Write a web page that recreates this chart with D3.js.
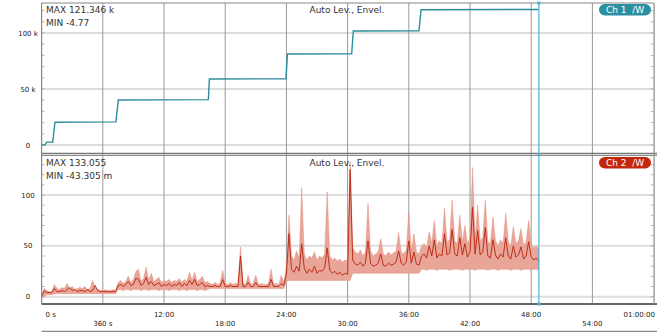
<!DOCTYPE html>
<html>
<head>
<meta charset="utf-8">
<title>Ch1 / Ch2 recorder</title>
<style>
  body { margin: 0; background: #fff; }
  svg { display: block; font-family: "DejaVu Sans", Verdana, sans-serif; }
</style>
</head>
<body>
<svg id="chart" width="657" height="332"></svg>
<script src="https://cdn.jsdelivr.net/npm/d3@7"></script>
<script>
// channel 1: stepped curve, time in minutes / value in k
var ch1Time = [0, 0.33, 0.5, 1.09, 1.31, 7.29, 7.52, 16.35, 16.45, 23.96, 24.1, 30.4, 30.56, 37.0, 37.2, 48.68];
var ch1Val  = [0, 0.2, 2.6, 2.7, 20.3, 20.6, 40.2, 40.5, 58.9, 59.2, 81.2, 81.4, 101.8, 101.9, 120.8, 121.0];

// channel 2: one sample every 0.25 min, envelope max / min and the averaged line
var ch2Step = 0.25;
var ch2Hi = [
  0, 8, 6, 5, 5,
  12, 8, 7, 9, 8, 13, 8, 10, 7, 8, 9, 8, 10, 7, 8, 16, 9, 7, 6, 6, 7, 6, 6, 7, 6,
  14, 16, 13, 15, 20, 14, 17, 25, 27, 15, 18, 29, 16, 23, 15, 17, 19, 14, 16, 15, 17, 14, 16, 15, 18, 14, 17, 15, 24, 16, 24, 15, 17, 20, 14, 15,
  13, 12, 14, 12, 13, 26, 13, 12, 14, 12, 13, 12, 49, 13, 12, 21, 12, 13, 21, 12, 13, 12, 12, 13, 27, 12, 13, 12, 21, 14,
  30, 80, 40, 36, 45, 38, 107, 42, 36, 40, 38, 44, 36, 40, 38, 42, 103, 40, 36, 38, 35, 37, 34, 36, 35, 133,
  48, 44, 42, 46, 40, 44, 92, 45, 40, 42, 44, 57, 42, 40, 44, 41, 43, 45, 63, 44, 42, 46, 82, 45, 62, 44, 42,
  50, 52, 48, 64, 52, 75, 50, 55, 52, 87, 54, 56, 95, 55, 52, 80, 54, 70, 52, 58,
  127, 56, 90, 55, 58, 95, 54, 52, 78, 55, 50, 56, 52, 82, 54, 50, 69, 52, 55, 67,
  50, 54, 75, 52, 48, 50, 46
];
var ch2Lo = [
  -1, 0, 2, 2, 2,
  3, 3, 3, 3, 3, 3, 3, 3, 3, 3, 3, 3, 3, 3, 3, 3, 3, 3, 3, 3, 3, 3, 3, 3, 3,
  7, 7, 6, 7, 7, 6, 7, 7, 7, 6, 7, 7, 6, 7, 7, 7, 6, 7, 7, 7, 6, 7, 7, 7, 6, 7, 7, 6, 7, 7, 7, 6, 7, 7, 6, 7,
  8, 8, 8, 8, 8, 8, 8, 8, 8, 8, 8, 8, 8, 8, 8, 8, 8, 8, 8, 8, 8, 8, 8, 8, 8, 8, 8, 8, 8, 8,
  15, 16, 16, 16, 16, 16, 16, 16, 16, 16, 16, 16, 16, 16, 16, 16, 16, 16, 16, 16, 16, 16, 16, 16, 16, 16,
  23, 23, 23, 23, 23, 23, 23, 23, 23, 23, 23, 23, 23, 23, 23, 23, 23, 23, 23, 23, 23, 23, 23, 23, 23, 23, 23,
  27, 27, 26, 27, 27, 27, 26, 27, 27, 27, 27, 26, 27, 27, 27, 27, 26, 27, 27, 27,
  27, 26, 27, 27, 27, 27, 26, 27, 27, 27, 26, 27, 27, 27, 27, 26, 27, 27, 27, 26,
  27, 27, 27, 26, 27, 27, 27
];
var ch2Mid = [
  0, 6, 4, 4, 4,
  8, 5, 5, 6, 5, 7, 9, 6, 7, 5, 6, 6, 5, 7, 5, 6, 11, 6, 5, 5, 5, 5, 5, 5, 5,
  11, 12, 10, 12, 15, 11, 12, 18, 17, 11, 13, 19, 12, 15, 11, 12, 14, 10, 12, 11, 13, 10, 12, 11, 14, 10, 13, 11, 16, 12, 17, 11, 12, 14, 10, 11,
  10, 10, 11, 10, 10, 17, 10, 10, 11, 10, 10, 10, 40, 10, 10, 14, 10, 10, 14, 10, 10, 10, 10, 10, 17, 10, 10, 10, 13, 11,
  22, 62, 27, 24, 30, 25, 52, 28, 23, 27, 24, 30, 23, 26, 25, 28, 48, 26, 23, 25, 22, 24, 21, 23, 22, 125,
  36, 32, 31, 34, 30, 33, 55, 33, 30, 31, 33, 42, 31, 30, 33, 31, 32, 34, 45, 33, 31, 34, 55, 33, 44, 32, 31,
  40, 42, 38, 50, 40, 56, 38, 42, 40, 62, 41, 43, 66, 42, 40, 58, 41, 52, 39, 44,
  88, 42, 65, 41, 44, 68, 40, 38, 56, 41, 37, 42, 39, 58, 40, 37, 50, 39, 41, 49,
  37, 40, 54, 39, 36, 38, 35
];

var xTicks = [0, 6, 12, 18, 24, 30, 36, 42, 48, 54, 60];
var xTickLabels = ["0  s", "360  s", "12:00", "18:00", "24:00", "30:00", "36:00", "42:00", "48:00", "54:00", "01:00:00"];
var y1Ticks = [0, 50, 100];
var y1TickLabels = ["0", "50 k", "100 k"];
var y2Ticks = [0, 50, 100];
var y2TickLabels = ["0", "50", "100"];
var cursorTime = 48.75;

var svg = d3.select("#chart");
var left = 41.6, right = 653.6;

var x = d3.scaleLinear().domain([0, 60]).range([left, right]);
var y1 = d3.scaleLinear().domain([0, 100]).range([145, 33]);
var y2 = d3.scaleLinear().domain([0, 100]).range([296.7, 195]);

var panels = [
  { top: 3, bottom: 153.5, y: y1, ticks: y1Ticks, labels: y1TickLabels, id: "p1" },
  { top: 155.5, bottom: 304, y: y2, ticks: y2Ticks, labels: y2TickLabels, id: "p2" }
];

panels.forEach(function(p) {
  svg.append("clipPath").attr("id", p.id)
    .append("rect").attr("x", left).attr("y", p.top)
    .attr("width", right - left).attr("height", p.bottom - p.top);

  // horizontal grid
  svg.append("g").selectAll("line").data(p.ticks).enter().append("line")
    .attr("x1", left).attr("x2", right)
    .attr("y1", function(d) { return p.y(d); })
    .attr("y2", function(d) { return p.y(d); })
    .attr("stroke", "#dedede").attr("stroke-width", 2);

  // minor ticks every 10, both sides
  var minor = d3.range(-10, 140, 10).filter(function(d) {
    var yy = p.y(d); return yy > p.top + 2 && yy < p.bottom - 2;
  });
  svg.append("g").selectAll("line").data(minor).enter().append("line")
    .attr("x1", left).attr("x2", left + 3)
    .attr("y1", function(d) { return p.y(d); })
    .attr("y2", function(d) { return p.y(d); })
    .attr("stroke", "#aaa").attr("stroke-width", 0.8);
  svg.append("g").selectAll("line").data(minor).enter().append("line")
    .attr("x1", right - 3).attr("x2", right)
    .attr("y1", function(d) { return p.y(d); })
    .attr("y2", function(d) { return p.y(d); })
    .attr("stroke", "#aaa").attr("stroke-width", 0.8);

  // y labels
  svg.append("g").selectAll("text").data(p.ticks).enter().append("text")
    .attr("x", 28).attr("y", function(d) { return p.y(d) + 2.5; })
    .attr("text-anchor", "middle")
    .attr("font-size", 7).attr("fill", "#222")
    .text(function(d, i) { return p.labels[i]; });
});

// vertical grid
svg.append("g").selectAll("line").data(xTicks.slice(1, -1)).enter().append("line")
  .attr("x1", function(d) { return x(d); }).attr("x2", function(d) { return x(d); })
  .attr("y1", 3).attr("y2", 304)
  .attr("stroke", "#9a9a9a").attr("stroke-width", 1);

// channel 1
svg.append("path")
  .datum(ch1Time.map(function(t, i) { return [t, ch1Val[i]]; }))
  .attr("clip-path", "url(#p1)")
  .attr("fill", "none").attr("stroke", "#2b8c9b").attr("stroke-width", 1.4)
  .attr("d", d3.line().x(function(d) { return x(d[0]); }).y(function(d) { return y1(d[1]); }));

// channel 2 envelope + line
var ch2 = ch2Hi.map(function(h, i) { return { t: i * ch2Step, hi: h, lo: ch2Lo[i], mid: ch2Mid[i] }; });
svg.append("path").datum(ch2)
  .attr("clip-path", "url(#p2)")
  .attr("fill", "#e9a597").attr("stroke", "#e39283").attr("stroke-width", 0.5)
  .attr("d", d3.area().x(function(d) { return x(d.t); })
    .y0(function(d) { return y2(d.lo); }).y1(function(d) { return y2(d.hi); }));
svg.append("path").datum(ch2)
  .attr("clip-path", "url(#p2)")
  .attr("fill", "none").attr("stroke", "#b8230f").attr("stroke-width", 0.9)
  .attr("d", d3.line().x(function(d) { return x(d.t); }).y(function(d) { return y2(d.mid); }));

// frames
var frame = svg.append("g").attr("fill", "none");
frame.append("line").attr("x1", left).attr("x2", right).attr("y1", 3).attr("y2", 3).attr("stroke", "#888").attr("stroke-width", 1.2);
frame.append("line").attr("x1", left).attr("x2", 657).attr("y1", 153.5).attr("y2", 153.5).attr("stroke", "#777").attr("stroke-width", 1.5);
frame.append("line").attr("x1", left).attr("x2", 657).attr("y1", 155.5).attr("y2", 155.5).attr("stroke", "#888").attr("stroke-width", 1.2);
frame.append("line").attr("x1", left).attr("x2", 657).attr("y1", 304).attr("y2", 304).attr("stroke", "#666").attr("stroke-width", 2);
frame.append("line").attr("x1", left).attr("x2", 657).attr("y1", 331.5).attr("y2", 331.5).attr("stroke", "#888").attr("stroke-width", 1.5);
frame.append("line").attr("x1", left).attr("x2", left).attr("y1", 3).attr("y2", 304).attr("stroke", "#888").attr("stroke-width", 1.2);
frame.append("line").attr("x1", right + 0.5).attr("x2", right + 0.5).attr("y1", 3).attr("y2", 304).attr("stroke", "#888").attr("stroke-width", 1.2);

// cursor
var cx = x(cursorTime);
svg.append("line").attr("x1", cx).attr("x2", cx).attr("y1", 3).attr("y2", 304)
  .attr("stroke", "#4ab2d4").attr("stroke-width", 1.2);
svg.append("g").selectAll("rect").data([3, 154.5, 304]).enter().append("rect")
  .attr("x", cx - 1.5).attr("y", function(d) { return d - 1.5; })
  .attr("width", 3).attr("height", 3).attr("fill", "#4ab2d4");

// x labels, two alternating rows
svg.append("g").selectAll("text").data(xTicks).enter().append("text")
  .attr("x", function(d, i) { return i === 0 ? x(d) + 4 : (i === xTicks.length - 1 ? 655 : x(d)); })
  .attr("y", function(d, i) { return i % 2 === 0 ? 317 : 326; })
  .attr("text-anchor", function(d, i) { return i === 0 ? "start" : (i === xTicks.length - 1 ? "end" : "middle"); })
  .attr("font-size", 7).attr("fill", "#222")
  .text(function(d, i) { return xTickLabels[i]; });

// panel texts
var info = [
  { y: 13, max: "MAX 121.346 k", min: "MIN -4.77", ch: "Ch 1  /W", color: "#2a8fa0" },
  { y: 166, max: "MAX 133.055", min: "MIN -43.305 m", ch: "Ch 2  /W", color: "#c4260b" }
];
info.forEach(function(p) {
  svg.append("text").attr("x", 46).attr("y", p.y).attr("font-size", 9).attr("fill", "#333").text(p.max);
  svg.append("text").attr("x", 46).attr("y", p.y + 12.5).attr("font-size", 9).attr("fill", "#333").text(p.min);
  svg.append("text").attr("x", 347).attr("y", p.y).attr("font-size", 9).attr("fill", "#333")
    .attr("text-anchor", "middle").text("Auto Lev., Envel.");
  svg.append("rect").attr("x", 599).attr("y", p.y - 9).attr("width", 52).attr("height", 11.5)
    .attr("rx", 5.7).attr("fill", p.color);
  svg.append("text").attr("x", 625).attr("y", p.y).attr("font-size", 9).attr("fill", "#fff")
    .attr("text-anchor", "middle").attr("xml:space", "preserve").text(p.ch);
});
</script>
</body>
</html>
